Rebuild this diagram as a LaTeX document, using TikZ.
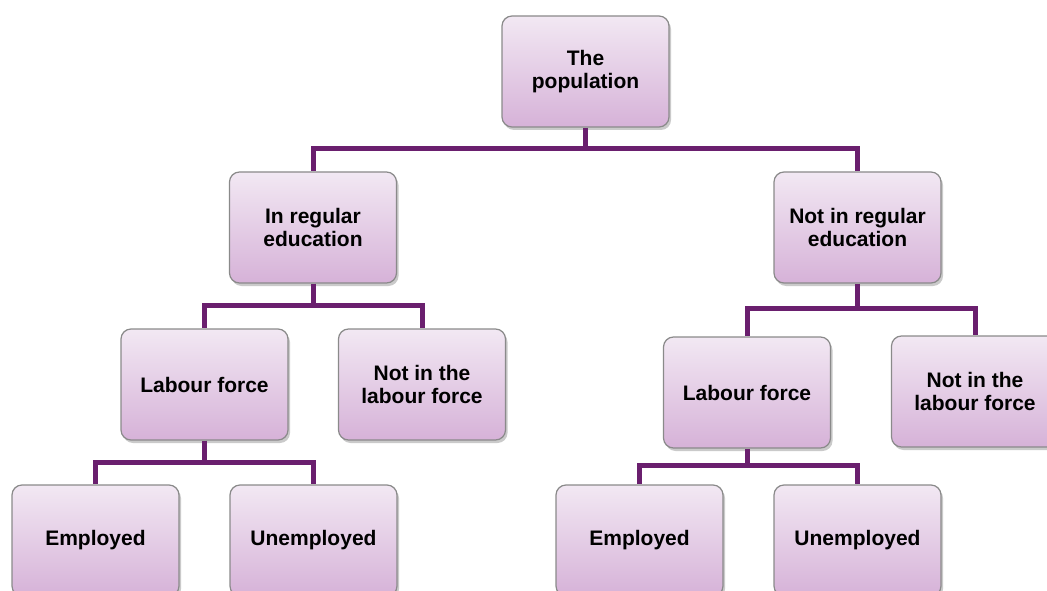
\documentclass[tikz,border=0pt]{standalone}
\usepackage{fontspec}
\setmainfont{Liberation Sans}
\usetikzlibrary{shadows}
\definecolor{linec}{HTML}{6A1F6E}
\definecolor{topc}{HTML}{F2E8F3}
\definecolor{botc}{HTML}{D6B2D8}
\definecolor{edgec}{HTML}{8A8A8A}
\begin{document}
\begin{tikzpicture}[x=1pt,y=-1pt,
  box/.style={draw=edgec, line width=1.2pt, rounded corners=10pt,
    top color=topc, bottom color=botc, minimum width=167pt, minimum height=111pt,
    align=center, font=\fontsize{21}{22.5}\selectfont\bfseries, inner sep=2pt,
    drop shadow={shadow xshift=2pt, shadow yshift=-3pt, opacity=0.35, fill=black!60}},
  conn/.style={draw=linec, line width=5pt}]
\useasboundingbox (0,0) rectangle (1047,591);
\node[box] (top) at (585.5,71.5) {The\\population};
\node[box] (ire) at (313,227.5) {In regular\\education};
\node[box] (nre) at (857.5,227.5) {Not in regular\\education};
\node[box] (lf1) at (204.5,384.5) {Labour force};
\node[box] (nlf1) at (422,384.5) {Not in the\\labour force};
\node[box] (lf2) at (747,392.5) {Labour force};
\node[box] (nlf2) at (975,391.5) {Not in the\\labour force};
\node[box] (e1) at (95.5,540.5) {Employed};
\node[box] (u1) at (313.5,540.5) {Unemployed};
\node[box] (e2) at (639.5,540.5) {Employed};
\node[box] (u2) at (857.5,540.5) {Unemployed};
\draw[conn] (top.south) -- ++(0,21) -| (ire.north);
\draw[conn] (top.south) ++(0,21) -| (nre.north);
\draw[conn] (ire.south) -- ++(0,22) -| (lf1.north);
\draw[conn] (ire.south) ++(0,22) -| (nlf1.north);
\draw[conn] (nre.south) -- ++(0,25) -| (lf2.north);
\draw[conn] (nre.south) ++(0,25) -| (nlf2.north);
\draw[conn] (lf1.south) -- ++(0,22) -| (e1.north);
\draw[conn] (lf1.south) ++(0,22) -| (u1.north);
\draw[conn] (lf2.south) -- ++(0,17) -| (e2.north);
\draw[conn] (lf2.south) ++(0,17) -| (u2.north);
\end{tikzpicture}
\end{document}
